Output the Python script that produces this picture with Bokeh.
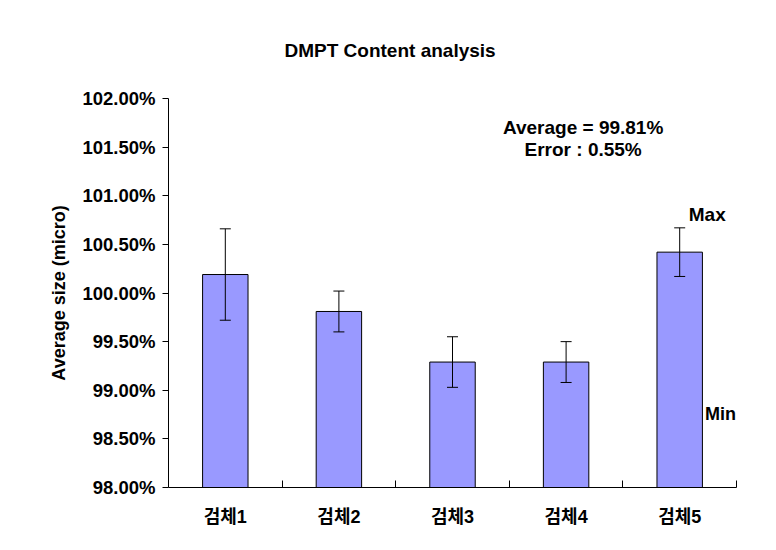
import numpy as np
from bokeh.plotting import figure
from bokeh.models import (ColumnDataSource, Range1d, FixedTicker, PrintfTickFormatter,
                          Whisker, TeeHead, Label, Title)
from bokeh.embed import file_html
from bokeh.resources import INLINE

# ---- data ----
categories = ["검체1", "검체2", "검체3", "검체4", "검체5"]
values = [100.19, 99.81, 99.29, 99.29, 100.42]
errors = [0.47, 0.21, 0.26, 0.21, 0.25]
y_ticks = [98.0, 98.5, 99.0, 99.5, 100.0, 100.5, 101.0, 101.5, 102.0]
title_text = "DMPT Content analysis"
note_lines = ["Average = 99.81%", "Error : 0.55%"]

n = len(categories)
centers = list(np.arange(n) + 0.5)
bounds = list(np.arange(1, n + 1).astype(float))
vals = np.array(values)
errs = np.array(errors)

src = ColumnDataSource(dict(x=centers, top=values,
                            upper=list(vals + errs), lower=list(vals - errs)))

BOLD = "Liberation Sans"
p = figure(width=768, height=542, output_backend="svg", toolbar_location=None,
           x_range=Range1d(0, n), y_range=Range1d(y_ticks[0], y_ticks[-1]),
           min_border_left=168, min_border_right=32, min_border_top=97,
           min_border_bottom=55)
p.outline_line_color = None
p.xgrid.grid_line_color = None
p.ygrid.grid_line_color = None
p.background_fill_color = "white"

t = Title(text=title_text, align="left", offset=116, standoff=75,
          text_font=BOLD, text_font_style="bold", text_font_size="19px",
          text_color="black")
p.add_layout(t, "above")

p.vbar(x="x", top="top", bottom=y_ticks[0], width=0.4, source=src,
       fill_color="#9999FF", line_color="black", line_width=1)

w = Whisker(base="x", upper="upper", lower="lower", source=src, level="overlay",
            line_color="black", line_width=1,
            upper_head=TeeHead(size=11, line_color="black", line_width=1),
            lower_head=TeeHead(size=11, line_color="black", line_width=1))
p.add_layout(w)

# x axis
xa = p.xaxis[0]
xa.ticker = FixedTicker(ticks=centers, minor_ticks=bounds)
xa.major_label_overrides = {c: lab for c, lab in zip(centers, categories)}
xa.major_tick_line_color = None
xa.minor_tick_in = 7
xa.minor_tick_out = 0
xa.minor_tick_line_color = "black"
xa.axis_line_color = "black"
xa.major_label_text_font = "Liberation Sans, Noto Sans CJK KR"
xa.major_label_text_font_style = "bold"
xa.major_label_text_font_size = "18px"
xa.major_label_text_color = "black"
xa.major_label_standoff = 13

# y axis
ya = p.yaxis[0]
ya.ticker = FixedTicker(ticks=y_ticks)
ya.formatter = PrintfTickFormatter(format="%.2f%%")
ya.minor_tick_line_color = None
ya.major_tick_in = 0
ya.major_tick_out = 6
ya.major_tick_line_color = "black"
ya.axis_line_color = "black"
ya.major_label_text_font = BOLD
ya.major_label_text_font_style = "bold"
ya.major_label_text_font_size = "18.5px"
ya.major_label_text_color = "black"
ya.major_label_standoff = 7
ya.axis_label = "Average size (micro)"
ya.axis_label_text_font = BOLD
ya.axis_label_text_font_style = "bold"
ya.axis_label_text_font_size = "18px"
ya.axis_label_text_color = "black"
ya.axis_label_standoff = 10

def lab(x, y, text, align="center", size="19px"):
    p.add_layout(Label(x=x, y=y, text=text, text_font=BOLD, text_font_style="bold",
                       text_font_size=size, text_color="black",
                       text_align=align, text_baseline="middle"))

lab(3.65, 101.70, note_lines[0])
lab(3.65, 101.475, note_lines[1])
lab(4.58, 100.81, "Max", align="left")
lab(4.722, 98.76, "Min", align="left", size="18px")

open("out.html", "w").write(file_html(p, INLINE))
